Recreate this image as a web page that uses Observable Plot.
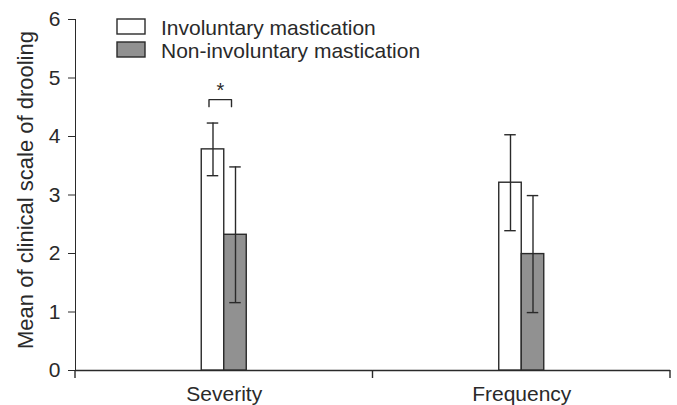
<!DOCTYPE html>
<html><head><meta charset="utf-8">
<script src="https://cdn.jsdelivr.net/npm/d3@7"></script>
<script src="https://cdn.jsdelivr.net/npm/@observablehq/plot@0.6"></script>
<style>body{margin:0;background:#fff}#chart{width:677px;height:405px}</style>
</head><body><div id="chart"></div>
<script>
const categories = ["Severity", "Frequency"];
const series = ["Involuntary mastication", "Non-involuntary mastication"];
const involuntaryMean = [3.78, 3.21];
const involuntarySD = [0.45, 0.82];
const nonInvoluntaryMean = [2.32, 1.99];
const nonInvoluntarySD = [1.16, 1.00];
const yTicks = [0, 1, 2, 3, 4, 5, 6];
const yLabel = "Mean of clinical scale of drooling";
const significance = [{category: "Severity", label: "*", base: 4.51, top: 4.63, star: 4.79}];

const means = [involuntaryMean, nonInvoluntaryMean];
const sds = [involuntarySD, nonInvoluntarySD];
const rows = categories.flatMap((c, i) => series.map((s, j) => ({
  category: c, series: s, mean: means[j][i], sd: sds[j][i]
})));
const bracket = significance.flatMap(d => [
  {category: d.category, series: series[0], y: d.base},
  {category: d.category, series: series[0], y: d.top},
  {category: d.category, series: series[1], y: d.top},
  {category: d.category, series: series[1], y: d.base}
]);

const ink = "#2a2a2a";
const font = "Liberation Sans, Arial, Helvetica, sans-serif";

const plot = Plot.plot({
  width: 677,
  height: 405,
  marginLeft: 75,
  marginRight: 7,
  marginTop: 19,
  marginBottom: 35,
  style: {fontFamily: font, fontSize: "21px", color: ink, background: "#fff"},
  fx: {domain: categories, padding: 0, round: false, label: null, axis: "bottom", tickSize: 0, tickPadding: 16},
  x: {type: "band", domain: series, paddingInner: 0, paddingOuter: 5.61, round: false, axis: null},
  y: {domain: [0, 6], ticks: yTicks, tickFormat: "d", tickSize: 7, tickPadding: 8, label: yLabel, labelAnchor: "center", labelOffset: 58, labelArrow: "none", line: true},
  color: {domain: series, range: ["#ffffff", "#919191"]},
  marks: [
    Plot.ruleY([0], {stroke: ink, strokeWidth: 1.4}),
    Plot.barY(rows, {fx: "category", x: "series", y: "mean", fill: "series", stroke: ink, strokeWidth: 1.4}),
    Plot.ruleX(rows, {fx: "category", x: "series", y1: d => d.mean - d.sd, y2: d => d.mean + d.sd, stroke: ink, strokeWidth: 1.4}),
    Plot.tickY(rows, {fx: "category", x: "series", y: d => d.mean - d.sd, insetLeft: 5.5, insetRight: 5.5, stroke: ink, strokeWidth: 1.4}),
    Plot.tickY(rows, {fx: "category", x: "series", y: d => d.mean + d.sd, insetLeft: 5.5, insetRight: 5.5, stroke: ink, strokeWidth: 1.4}),
    Plot.line(bracket, {fx: "category", x: "series", y: "y", dx: -4, stroke: ink, strokeWidth: 1.4}),
    Plot.text(significance, {fx: "category", x: () => series[0], y: "star", text: "label", dx: 7.5, fontSize: 20, fill: ink})
  ]
});
document.getElementById("chart").appendChild(plot);

const svg = d3.select(plot);
// larger axis title, nudged up slightly as in the reference (rotated frame: +x is screen up)
svg.selectAll('[aria-label="y-axis label"]').attr("font-size", 22)
  .attr("transform", function () { const t = this.getAttribute("transform"); return (t ? t + " " : "") + "translate(0,0)"; });
svg.selectAll('[aria-label="y-axis label"] text')
  .attr("transform", function () { const t = this.getAttribute("transform"); return (t ? t + " " : "") + "translate(5,0)"; });

// boundary ticks on the category axis, and the legend, from the plot's own scales
const fx = plot.scale("fx");
const yS = plot.scale("y");
const y0 = yS.apply(0);
const edges = Array.from(new Set(categories.flatMap(c => [fx.apply(c), fx.apply(c) + fx.bandwidth])));
svg.append("g").attr("stroke", ink).attr("stroke-width", 1.4)
  .selectAll("line").data(edges).join("line")
  .attr("x1", d => d).attr("x2", d => d).attr("y1", y0).attr("y2", y0 + 8);

const color = plot.scale("color");
const lg = svg.append("g").attr("font-family", font).attr("font-size", 21).attr("fill", ink).attr("text-anchor", "start");
series.forEach((s, i) => {
  lg.append("rect").attr("x", 117).attr("y", 19 + i * 23).attr("width", 28).attr("height", 15)
    .attr("fill", color.apply(s)).attr("stroke", ink).attr("stroke-width", 1.4);
  lg.append("text").attr("x", 161).attr("y", 35 + i * 23).text(s);
});
</script></body></html>
